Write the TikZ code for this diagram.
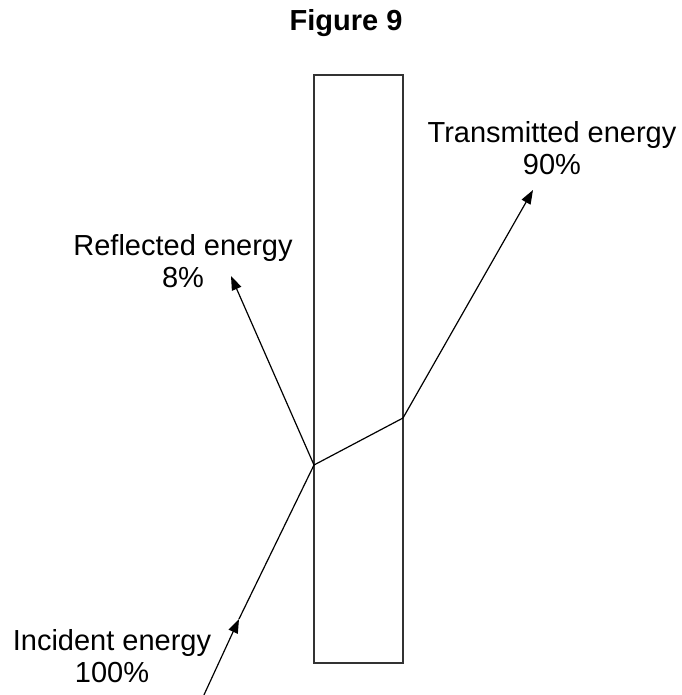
\documentclass[tikz,border=0pt]{standalone}
\usepackage{fontspec}
\setmainfont{Liberation Sans}
\usetikzlibrary{arrows.meta}
\begin{document}
\begin{tikzpicture}[x=1pt,y=-1pt,
  lbl/.style={inner sep=0pt,anchor=base,font=\fontsize{29}{32}\selectfont},
  ray/.style={line width=1.2pt,black},
  tip/.style={-{Triangle[length=14pt,width=10pt]}},
  slab/.style={draw=black!80,line width=1.4pt,fill=none}]
\useasboundingbox (0,0) rectangle (681,695);
% title
\node[lbl,font=\fontsize{29}{32}\selectfont\bfseries] (title) at (346,31) {Figure 9};
% slab
\coordinate (sTL) at (314,75);
\coordinate (sBR) at (403,663);
\draw[slab] (sTL) rectangle (sBR);
% points
\coordinate (start) at (203,697);
\coordinate (mid) at (239,619);
\coordinate (P) at (314,465);
\coordinate (Q) at (403,418);
\coordinate (R) at (231,276);
\coordinate (T) at (533,190);
% rays
\draw[ray,tip] (start) -- (mid);
\draw[ray] (mid) -- (P);
\draw[ray,tip] (P) -- (R);
\draw[ray] (P) -- (Q);
\draw[ray,tip] (Q) -- (T);
% labels
\node[lbl] (trans1) at (552,143) {Transmitted energy};
\node[lbl] (trans2) at (552,175) {90\%};
\node[lbl] (refl1) at (183,255) {Reflected energy};
\node[lbl] (refl2) at (183,287) {8\%};
\node[lbl] (inc1) at (112,650) {Incident energy};
\node[lbl] (inc2) at (112,682) {100\%};
\end{tikzpicture}
\end{document}
